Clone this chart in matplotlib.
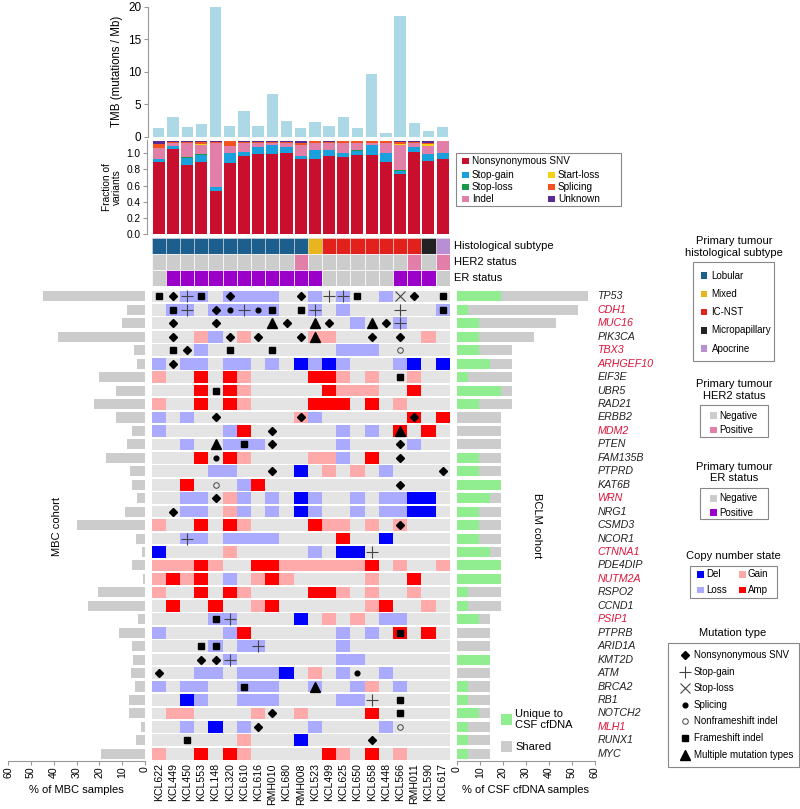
import numpy as np
import matplotlib.pyplot as plt
from matplotlib.patches import Rectangle

plt.rcParams['font.family'] = ['Liberation Sans', 'DejaVu Sans']

W, H = 800, 809

samples = ['KCL622', 'KCL449', 'KCL450', 'KCL553', 'KCL148', 'KCL320', 'KCL610',
           'KCL616', 'RMH010', 'KCL680', 'RMH008', 'KCL523', 'KCL499', 'KCL625',
           'KCL650', 'KCL658', 'KCL448', 'KCL566', 'RMH011', 'KCL590', 'KCL617']

genes = ['TP53', 'CDH1', 'MUC16', 'PIK3CA', 'TBX3', 'ARHGEF10', 'EIF3E', 'UBR5',
         'RAD21', 'ERBB2', 'MDM2', 'PTEN', 'FAM135B', 'PTPRD', 'KAT6B', 'WRN',
         'NRG1', 'CSMD3', 'NCOR1', 'CTNNA1', 'PDE4DIP', 'NUTM2A', 'RSPO2', 'CCND1',
         'PSIP1', 'PTPRB', 'ARID1A', 'KMT2D', 'ATM', 'BRCA2', 'RB1', 'NOTCH2',
         'MLH1', 'RUNX1', 'MYC']
genes_red = ['CDH1', 'MUC16', 'TBX3', 'ARHGEF10', 'MDM2', 'WRN', 'CTNNA1',
             'NUTM2A', 'PSIP1', 'MLH1']

# tumour mutational burden per sample
tmb = [1.4, 3.1, 1.5, 2.0, 19.9, 1.6, 3.9, 1.7, 6.5, 2.4, 1.3, 2.3, 1.7, 3.0,
       1.4, 9.6, 0.6, 18.6, 2.1, 0.9, 1.5]

# fraction of variants (stacked, bottom to top)
fr_snv = [.897, 1.053, .856, .893, .535, .885, .967, .996, .99, 1.008, .93, .93,
          .967, .955, .984, .98, .893, .741, 1.016, .909, .926]
fr_stopgain = [.037, .037, .09, .086, .053, .115, .053, .086, .11, .066, .04, .11,
               .074, .053, .045, .123, .115, .045, .058, .082, .082]
fr_stoploss = [0, 0, .013, .008, 0, .008, 0, 0, 0, 0, 0, 0, 0, 0, .008, 0, 0,
               .008, 0, 0, 0]
fr_indel = [.126, .04, .17, .115, .543, .082, .111, .05, .03, .058, .128, .082,
            .082, .115, .086, .02, .115, .309, .058, .098, .144]
fr_startloss = [0, 0, 0, .012, 0, 0, 0, 0, 0, 0, 0, 0, 0, .008, 0, 0, 0, .012,
                0, .02, 0]
fr_splicing = [.06, .01, .01, .03, .012, .062, .012, .012, .012, .012, .033, .03,
               .021, .021, .029, .029, .029, .029, .008, .021, 0]
fr_unknown = [.03, .012, .012, .008, .008, 0, .008, .008, .01, .008, .021, 0,
              .008, 0, 0, 0, 0, .008, .012, .021, 0]

# L lobular, M mixed, I IC-NST, P micropapillary, A apocrine
subtype = 'LLLLLLLLLLLMIIIIIIIPA'
her2 = '..........+.......+.+'
er = '.+++++++++++.....+++.'

# copy number: l loss, d del, g gain, a amp
cna = [
    '..ll.llll..l.l..l....',
    '.ll.lllll..l.l......l',
    '..............l..l...',
    '...gl.g....gg......g.',
    '...l.........lll.....',
    'l.ll.ll.l.dldl...ld.d',
    'g..a.ag....aag.g..g..',
    '...a.ag.....aggg..a..',
    'g..a.ag....aaa.a.g...',
    'l.l.......gl......a.a',
    'l....la......l.l.a.a.',
    '..l..lll.....l....l..',
    '...a.ag....ggl.a.....',
    '....ll....d.g.g.l....',
    '..a...la.............',
    '..ll.gl.l.dl..l.lldd.',
    '..ll.gl.l.dl..l.lldd.',
    'g..a.ag....agg.g.g...',
    '..ll.llll....a..d....',
    'd....g.....l.dd......',
    'gggag..aagggggga.g..g',
    'gaga.l.gag.....g..a..',
    'g..a.ag....aag.g..g..',
    '.a..a..ga......ga..g.',
    '....ll....d.g.g.ll...',
    'l....la......l.l.a.a.',
    '....l.ll.....l.......',
    '.....l.......ll......',
    '...ll.llld.g.l..l....',
    'l.ll..lll..l..lg.l...',
    '..dl..lll....ll......',
    '.gg....g..g....a.....',
    '..l.d.l....l....l....',
    '......g...d..........',
    'g..a.ag.....ag.a.g...',
]

# mutations: D nonsyn SNV, + stop-gain, x stop-loss, o splicing,
# c nonframeshift indel, s frameshift indel, t multiple
muts = [
    'sD+s.D....D.++s..xD.s',
    '.s+.Do+os.s+.....+..s',
    '.D..D...tD.tD..tD+...',
    '.D...D.D..Dt...D.D...',
    '.sD..s..s........c...',
    '.D...................',
    '.................s...',
    '....s................',
    '.....................',
    '....D.....D.......D..',
    '........D........t...',
    '....t.s.D........D...',
    '....o............D...',
    '........D...........D',
    '....c............D...',
    '....D................',
    '.D...................',
    '.................D...',
    '..+..................',
    '...............+.....',
    '.....................',
    '.....................',
    '.....................',
    '.....................',
    '....s+...............',
    '.................s...',
    '...ss..+.............',
    '...DD+...............',
    'D.............o......',
    '......s....t.........',
    '...............+.s...',
    '........D........s...',
    '.......D.........c...',
    '..s............D.....',
    '.....................',
]

# % of samples altered
mbc_pct = [44.6, 8.0, 10.0, 38.0, 4.8, 3.5, 20.0, 12.7, 22.5, 12.7, 5.8, 8.0,
           17.0, 6.7, 5.8, 3.5, 8.6, 29.7, 4.0, 1.2, 5.7, 0.7, 20.6, 24.9, 3.0,
           11.4, 5.7, 5.3, 6.1, 4.4, 6.9, 7.2, 1.9, 4.0, 19.3]
csf_pct = [57.1, 52.4, 42.9, 33.3, 23.8, 23.8, 23.8, 23.8, 23.8, 19.0, 19.0, 19.0,
           19.0, 19.0, 19.0, 19.0, 19.0, 19.0, 19.0, 19.0, 19.0, 19.0, 19.0, 19.0,
           14.3, 14.3, 14.3, 14.3, 14.3, 14.3, 14.3, 14.3, 14.3, 14.3, 14.3]
csf_unique_pct = [19.0, 4.8, 9.5, 9.5, 9.5, 14.3, 4.8, 19.0, 9.5, 0, 0, 0, 9.5,
                  9.5, 19.0, 14.3, 9.5, 9.5, 9.5, 14.3, 19.0, 19.0, 4.8, 4.8, 9.5,
                  0, 0, 14.3, 0, 4.8, 4.8, 9.5, 4.8, 4.8, 4.8]

cna_col = {'l': '#AAAAFF', 'd': '#0000FF', 'g': '#FFAAAA', 'a': '#FF0000'}
sub_col = {'L': '#1C5F8E', 'M': '#E8B51E', 'I': '#E3211C', 'P': '#222222',
           'A': '#B88FD2'}
var_cols = ['#C8102E', '#1BA0DE', '#17994A', '#E27FA8', '#F5D116', '#F2531E',
            '#5B2A92']
mut_style = {
    'D': dict(marker='D', ms=4.0, color='black'),
    '+': dict(marker='+', ms=8, color='#444444', mew=0.8),
    'x': dict(marker='x', ms=6.5, color='#444444', mew=0.8),
    'o': dict(marker='o', ms=3.4, color='black'),
    'c': dict(marker='o', ms=4, mfc='none', mec='#444444', mew=0.7),
    's': dict(marker='s', ms=4.8, color='black'),
    't': dict(marker='^', ms=6.5, color='black'),
}
grey_cell = '#E4E4E4'

fig = plt.figure(figsize=(W / 100, H / 100), dpi=100)


def px_axes(x0, y0, x1, y1):
    return fig.add_axes([x0 / W, 1 - y1 / H, (x1 - x0) / W, (y1 - y0) / H])


cw = (449.7 - 151.7) / 21
ns, ng = len(samples), len(genes)
xs = np.arange(ns)

# TMB bars
ax = px_axes(147.7, 6.7, 449.7, 136.7)
ax.bar(xs, tmb, width=0.8, color='#ADD8E6')
ax.set_xlim(-0.5 - 4 / cw, ns - 0.5)
ax.set_ylim(0, 20)
for s in ['top', 'right', 'bottom']:
    ax.spines[s].set_visible(False)
ax.spines['left'].set_color('#999999')
ax.set_xticks([])
ax.set_yticks([0, 5, 10, 15, 20])
ax.tick_params(axis='y', labelsize=8.5, length=3, color='#999999', pad=1.5)
ax.set_ylabel('TMB (mutations / Mb)', fontsize=8.3, labelpad=4)

# fraction of variants
ax = px_axes(146.7, 140.3, 449.7, 234.3)
bottom = np.zeros(ns)
for vals, col in zip([fr_snv, fr_stopgain, fr_stoploss, fr_indel, fr_startloss,
                      fr_splicing, fr_unknown], var_cols):
    ax.bar(xs, vals, bottom=bottom, width=0.85, color=col)
    bottom += np.array(vals)
ax.set_xlim(-0.5 - 5 / cw, ns - 0.5)
ax.set_ylim(0, 1.16)
for s in ['top', 'right', 'bottom']:
    ax.spines[s].set_visible(False)
ax.spines['left'].set_color('#999999')
ax.set_xticks([])
ax.set_yticks([0, 0.2, 0.4, 0.6, 0.8, 1.0])
ax.set_yticklabels(['0.0', '0.2', '0.4', '0.6', '0.8', '1.0'])
ax.tick_params(axis='y', labelsize=7.3, length=3, color='#999999', pad=1.5)
ax.set_ylabel('Fraction of\nvariants', fontsize=7.3, labelpad=3, linespacing=1.0)

# annotation tracks
ax = px_axes(151.7, 238, 449.7, 286)
for c in range(ns):
    ax.add_patch(Rectangle((c - 0.5, -0.5), 1, 1, fc=sub_col[subtype[c]],
                           ec='#DDDDDD', lw=0.4))
    ax.add_patch(Rectangle((c - 0.5, 0.5), 1, 1,
                           fc='#E27FA8' if her2[c] == '+' else '#CCCCCC',
                           ec='white', lw=0.5))
    ax.add_patch(Rectangle((c - 0.5, 1.5), 1, 1,
                           fc='#9A00C8' if er[c] == '+' else '#CCCCCC',
                           ec='white', lw=0.5))
ax.set_xlim(-0.5, ns - 0.5)
ax.set_ylim(2.5, -0.5)
ax.axis('off')
for k, lab in enumerate(['Histological subtype', 'HER2 status', 'ER status']):
    ax.text(ns - 0.2, k, lab, fontsize=8, va='center', ha='left')

# oncoprint grid
ax = px_axes(151.7, 289.7, 449.7, 760.5)
hgt = 0.87
for r in range(ng):
    for c in range(ns):
        col = cna_col.get(cna[r][c], grey_cell)
        ax.add_patch(Rectangle((c - 0.5, r - hgt / 2), 1, hgt, fc=col, ec='none'))
for r in range(ng):
    for c in range(ns):
        m = muts[r][c]
        if m != '.':
            ax.plot(c, r, ls='none', **mut_style[m])
ax.set_xlim(-0.5, ns - 0.5)
ax.set_ylim(ng - 0.5, -0.5)
ax.axis('off')
for c, s in enumerate(samples):
    ax.text(c, ng - 0.3, s, rotation=90, ha='center', va='top', fontsize=7.6)

# MBC bars (left)
ax = px_axes(8, 289.7, 145, 760.5)
ax.barh(np.arange(ng), mbc_pct, height=0.75, color='#CCCCCC')
ax.set_xlim(60, 0)
ax.set_ylim(ng - 0.5, -0.5)
for s in ['top', 'right', 'left']:
    ax.spines[s].set_visible(False)
ax.spines['bottom'].set_color('#999999')
ax.set_yticks([])
ax.set_xticks(range(0, 61, 10))
ax.tick_params(axis='x', labelsize=7.6, rotation=90, length=3, color='#999999',
               pad=1.5)
ax.set_xlabel('% of MBC samples', fontsize=8, labelpad=5)
ax.text(38.6, 17.1, 'MBC cohort', rotation=90, fontsize=8, ha='center',
        va='center')

# CSF bars (right)
ax = px_axes(457, 289.7, 595, 760.5)
ax.barh(np.arange(ng), csf_pct, height=0.75, color='#CCCCCC')
ax.barh(np.arange(ng), csf_unique_pct, height=0.75, color='#90EE90')
ax.set_xlim(0, 60)
ax.set_ylim(ng - 0.5, -0.5)
for s in ['top', 'right', 'left']:
    ax.spines[s].set_visible(False)
ax.spines['bottom'].set_color('#999999')
ax.set_yticks([])
ax.set_xticks(range(0, 61, 10))
ax.tick_params(axis='x', labelsize=7.6, rotation=90, length=3, color='#999999',
               pad=1.5)
ax.set_xlabel('% of CSF cfDNA samples', fontsize=8, labelpad=5)
ax.text(34.8, 17, 'BCLM cohort', rotation=-90, fontsize=8, ha='center',
        va='center')
for r, g in enumerate(genes):
    ax.text(61, r, g, fontsize=7.7, style='italic', va='center', ha='left',
            color='#DC143C' if g in genes_red else '#222222')

# overlay for legends (pixel coordinates)
lay = fig.add_axes([0, 0, 1, 1], facecolor='none')
lay.set_xlim(0, W)
lay.set_ylim(H, 0)
lay.axis('off')


def box(x0, y0, x1, y1):
    lay.add_patch(Rectangle((x0, y0), x1 - x0, y1 - y0, fc='none',
                            ec='#888888', lw=0.8))


def sq(x, y, col, s=6.5):
    lay.add_patch(Rectangle((x, y - s / 2), s, s, fc=col, ec='none'))


# variant legend
box(456, 153, 621, 206)
var_labels = [('Nonsynonymous SNV', 462, 161, 0), ('Stop-gain', 462, 175, 1),
              ('Stop-loss', 462, 187, 2), ('Indel', 462, 199, 3),
              ('Start-loss', 548, 175, 4), ('Splicing', 548, 187, 5),
              ('Unknown', 548, 199, 6)]
for lab, x, y, k in var_labels:
    sq(x, y, var_cols[k])
    lay.text(x + 10, y, lab, fontsize=7.2, va='center')

# subtype legend
lay.text(734, 247, 'Primary tumour\nhistological subtype', fontsize=8,
         ha='center', va='center', linespacing=1.15)
box(693, 262, 774, 361)
for k, (lab, code) in enumerate([('Lobular', 'L'), ('Mixed', 'M'),
                                 ('IC-NST', 'I'), ('Micropapillary', 'P'),
                                 ('Apocrine', 'A')]):
    y = 275.7 + k * 18.2
    sq(700.5, y, sub_col[code])
    lay.text(711.5, y, lab, fontsize=7, va='center')

# HER2 / ER legends
for ty, by, lab, pos_col in [(390, 405, 'HER2 status', '#E27FA8'),
                             (472.5, 487.7, 'ER status', '#9A00C8')]:
    lay.text(734, ty, 'Primary tumour\n' + lab, fontsize=8, ha='center',
             va='center', linespacing=1.15)
    box(700, by, 767.7, by + 31.7)
    for k, (l2, col) in enumerate([('Negative', '#CCCCCC'),
                                   ('Positive', pos_col)]):
        y = by + 10.7 + k * 14.3
        sq(710, y, col)
        lay.text(719.3, y, l2, fontsize=7, va='center')

# copy number legend
lay.text(733, 556, 'Copy number state', fontsize=8, ha='center', va='center')
box(690, 566, 777, 598)
for lab, code, x, y in [('Del', 'd', 697, 574.3), ('Gain', 'g', 739, 574.3),
                        ('Loss', 'l', 697, 590), ('Amp', 'a', 739, 590)]:
    sq(x, y, cna_col[code])
    lay.text(x + 9, y, lab, fontsize=7, va='center')

# mutation type legend
lay.text(733, 633, 'Mutation type', fontsize=8, ha='center', va='center')
box(668, 643, 799, 767)
for k, (lab, code) in enumerate([('Nonsynonymous SNV', 'D'), ('Stop-gain', '+'),
                                 ('Stop-loss', 'x'), ('Splicing', 'o'),
                                 ('Nonframeshift indel', 'c'),
                                 ('Frameshift indel', 's'),
                                 ('Multiple mutation types', 't')]):
    y = 655 + k * 16.6
    lay.plot(685, y, ls='none', **mut_style[code])
    lay.text(694, y, lab, fontsize=7, va='center')

# CSF unique/shared legend
sq(500.7, 719.5, '#90EE90', s=11)
lay.text(515, 719.5, 'Unique to\nCSF cfDNA', fontsize=8, va='center',
         linespacing=1.2)
sq(500.7, 746.7, '#CCCCCC', s=11)
lay.text(515, 746.7, 'Shared', fontsize=8, va='center')

fig.savefig('out.png', dpi=100)
